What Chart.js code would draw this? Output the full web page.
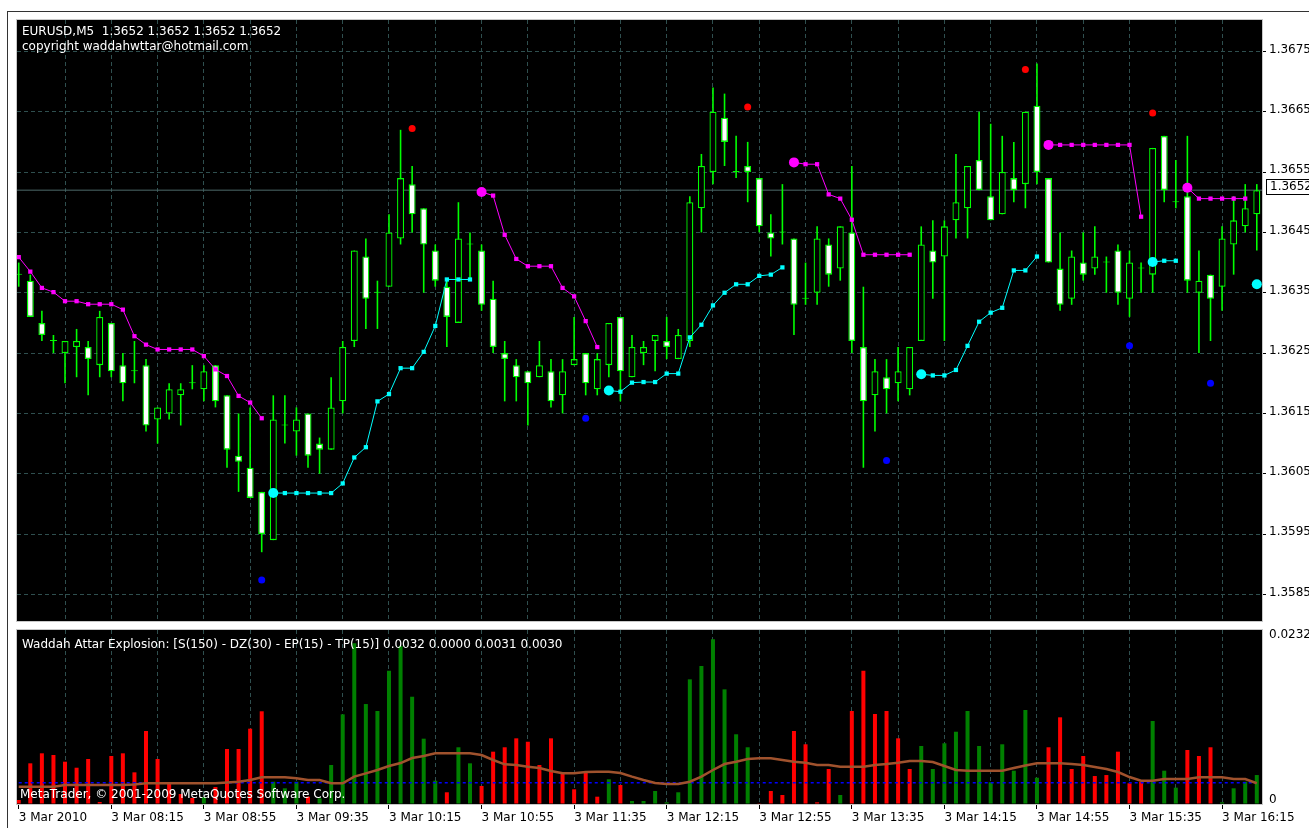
<!DOCTYPE html>
<html><head><meta charset="utf-8">
<script src="https://cdn.jsdelivr.net/npm/chart.js@4.4.1/dist/chart.umd.min.js"></script>
<style>
html,body{margin:0;padding:0;background:#fff;width:1309px;height:828px;overflow:hidden;}
#wrap{position:relative;width:1309px;height:828px;}
canvas{position:absolute;left:0;}
#c1{top:0;}
#c2{top:626px;}
.t{position:absolute;font-family:'DejaVu Sans';font-size:12px;color:#fff;white-space:pre;line-height:14px;}
#frame{position:absolute;left:7px;top:11px;width:1400px;height:900px;border-left:1px solid #333;border-top:1px solid #333;}
</style></head><body>
<div id="wrap">
<div id="frame"></div>
<canvas id="c1" width="1309" height="626"></canvas>
<canvas id="c2" width="1309" height="202"></canvas>
<div class="t" style="left:22px;top:24px">EURUSD,M5  1.3652 1.3652 1.3652 1.3652</div>
<div class="t" style="left:22px;top:39px">copyright waddahwttar@hotmail.com</div>
<div class="t" style="left:22px;top:637px">Waddah Attar Explosion: [S(150) - DZ(30) - EP(15) - TP(15)] 0.0032 0.0000 0.0031 0.0030</div>
<div class="t" style="left:20px;top:787px">MetaTrader, © 2001-2009 MetaQuotes Software Corp.</div>
</div>
<script>
// ---------- DATA ----------
const timeLabels = ['3 Mar 2010','3 Mar 08:15','3 Mar 08:55','3 Mar 09:35','3 Mar 10:15','3 Mar 10:55','3 Mar 11:35','3 Mar 12:15','3 Mar 12:55','3 Mar 13:35','3 Mar 14:15','3 Mar 14:55','3 Mar 15:35','3 Mar 16:15'];
const gridBars = [0,4,8,12,16,20,24,28,32,36,40,44,48,52,56,60,64,68,72,76,80,84,88,92,96,100,104];
const priceTickLabels = ['1.3585','1.3595','1.3605','1.3615','1.3625','1.3635','1.3645','1.3655','1.3665','1.3675'];
const currentPrice = 1.3652;
const currentPriceLabel = '1.3652';

const open = [
1.3638,1.3637,1.3630,1.3627,1.3625,1.3626,1.3626,1.3623,1.3630,1.3623,
1.3622,1.3623,1.3614,1.3615,1.3618,1.3620,1.3619,1.3623,1.3618,1.3608,
1.3606,1.3602,1.3594,1.3613,1.3612,1.3615,1.3610,1.3609,1.3617,1.3627,
1.3641,1.3635,1.3636,1.3644,1.3653,1.3649,1.3642,1.3636,1.3630,1.3643,
1.3642,1.3634,1.3625,1.3623,1.3622,1.3621,1.3622,1.3618,1.3623,1.3625,
1.3619,1.3623,1.3631,1.3621,1.3625,1.3627,1.3627,1.3624,1.3627,1.3649,
1.3655,1.3664,1.3655,1.3656,1.3654,1.3645,1.3645,1.3644,1.3634,1.3635,
1.3643,1.3639,1.3645,1.3626,1.3618,1.3621,1.3620,1.3619,1.3627,1.3642,
1.3641,1.3647,1.3649,1.3657,1.3651,1.3648,1.3654,1.3653,1.3666,1.3654,
1.3639,1.3634,1.3640,1.3639,1.3640,1.3642,1.3634,1.3639,1.3638,1.3661,
1.3650,1.3651,1.3635,1.3638,1.3636,1.3643,1.3646,1.3648];
const high = [
1.3640,1.3638,1.3632,1.3628,1.3627,1.3629,1.3627,1.3632,1.3630,1.3625,
1.3627,1.3624,1.3616,1.3620,1.3620,1.3623,1.3623,1.3623,1.3618,1.3615,
1.3616,1.3602,1.3618,1.3618,1.3616,1.3615,1.3611,1.3621,1.3627,1.3642,
1.3644,1.3637,1.3648,1.3662,1.3656,1.3649,1.3643,1.3637,1.3650,1.3645,
1.3643,1.3637,1.3627,1.3624,1.3622,1.3627,1.3624,1.3624,1.3631,1.3625,
1.3625,1.3630,1.3631,1.3628,1.3627,1.3628,1.3631,1.3629,1.3651,1.3658,
1.3669,1.3668,1.3661,1.3660,1.3654,1.3648,1.3653,1.3644,1.3640,1.3646,
1.3644,1.3646,1.3656,1.3636,1.3624,1.3624,1.3626,1.3626,1.3646,1.3647,
1.3647,1.3658,1.3656,1.3665,1.3663,1.3661,1.3660,1.3665,1.3673,1.3654,
1.3645,1.3642,1.3645,1.3646,1.3641,1.3643,1.3642,1.3640,1.3659,1.3661,
1.3657,1.3661,1.3642,1.3638,1.3646,1.3651,1.3653,1.3653];
const low = [
1.3636,1.3631,1.3627,1.3625,1.3620,1.3621,1.3618,1.3621,1.3621,1.3617,
1.3620,1.3612,1.3610,1.3614,1.3613,1.3619,1.3617,1.3616,1.3606,1.3602,
1.3601,1.3592,1.3594,1.3610,1.3608,1.3606,1.3605,1.3609,1.3615,1.3626,
1.3629,1.3629,1.3636,1.3643,1.3645,1.3635,1.3636,1.3626,1.3630,1.3637,
1.3632,1.3625,1.3617,1.3617,1.3613,1.3621,1.3616,1.3615,1.3623,1.3618,
1.3618,1.3621,1.3617,1.3621,1.3623,1.3622,1.3624,1.3624,1.3626,1.3645,
1.3653,1.3656,1.3654,1.3650,1.3645,1.3641,1.3643,1.3628,1.3633,1.3633,
1.3636,1.3637,1.3625,1.3606,1.3612,1.3615,1.3617,1.3618,1.3627,1.3634,
1.3627,1.3644,1.3644,1.3652,1.3647,1.3648,1.3650,1.3649,1.3653,1.3640,
1.3632,1.3633,1.3637,1.3638,1.3635,1.3633,1.3631,1.3635,1.3635,1.3650,
1.3649,1.3635,1.3625,1.3627,1.3632,1.3638,1.3645,1.3642];
const close = [
1.3638,1.3631,1.3628,1.3627,1.3627,1.3627,1.3624,1.3631,1.3622,1.3620,
1.3622,1.3613,1.3616,1.3619,1.3619,1.3620,1.3622,1.3617,1.3609,1.3607,
1.3601,1.3595,1.3614,1.3613,1.3614,1.3608,1.3609,1.3616,1.3626,1.3642,
1.3634,1.3635,1.3645,1.3654,1.3648,1.3643,1.3637,1.3631,1.3644,1.3643,
1.3633,1.3626,1.3624,1.3621,1.3620,1.3623,1.3617,1.3622,1.3624,1.3620,
1.3624,1.3630,1.3622,1.3626,1.3626,1.3628,1.3626,1.3628,1.3650,1.3656,
1.3665,1.3660,1.3655,1.3655,1.3646,1.3644,1.3645,1.3633,1.3634,1.3644,
1.3638,1.3646,1.3627,1.3617,1.3622,1.3619,1.3622,1.3626,1.3643,1.3640,
1.3646,1.3650,1.3656,1.3652,1.3647,1.3655,1.3652,1.3665,1.3655,1.3640,
1.3633,1.3641,1.3638,1.3641,1.3640,1.3635,1.3640,1.3639,1.3659,1.3652,
1.3650,1.3637,1.3637,1.3634,1.3644,1.3647,1.3649,1.3652];

// trailing stop (down trend, magenta) and (up trend, aqua)
const magentaStop = [
1.36409,1.36385,1.36358,1.36351,1.36336,1.36336,1.36331,1.36331,1.36331,1.36322,
1.36278,1.36264,1.36256,1.36256,1.36256,1.36256,1.36245,1.36223,1.36212,1.36179,
1.36168,1.36142,null,null,null,null,null,null,null,null,
null,null,null,null,null,null,null,null,null,null,
1.36517,1.36511,1.36446,1.36406,1.36394,1.36394,1.36394,1.36358,1.36344,1.36303,
1.36260,null,null,null,null,null,null,null,null,null,
null,null,null,null,null,null,null,1.36566,1.36563,1.36563,
1.36513,1.36506,1.36471,1.36413,1.36413,1.36413,1.36413,1.36413,null,null,
null,null,null,null,null,null,null,null,null,1.36595,
1.36595,1.36595,1.36595,1.36595,1.36595,1.36595,1.36595,1.36476,null,null,
null,1.36524,1.36506,1.36506,1.36506,1.36506,1.36506,null];
const cyanStop = [
null,null,null,null,null,null,null,null,null,null,
null,null,null,null,null,null,null,null,null,null,
null,null,1.36018,1.36018,1.36018,1.36018,1.36018,1.36018,1.36034,1.36077,
1.36094,1.36170,1.36182,1.36225,1.36225,1.36252,1.36295,1.36372,1.36372,1.36372,
null,null,null,null,null,null,null,null,null,null,
null,1.36188,1.36186,1.36201,1.36202,1.36202,1.36216,1.36216,1.36276,1.36297,
1.36329,1.36350,1.36364,1.36364,1.36378,1.36380,1.36392,null,null,null,
null,null,null,null,null,null,null,null,1.36215,1.36213,
1.36213,1.36222,1.36262,1.36302,1.36317,1.36325,1.36387,1.36387,1.36410,null,
null,null,null,null,null,null,null,null,1.36401,1.36403,
1.36403,null,null,null,null,null,null,1.36364];
const magentaStarts = [40,67,89,101];
const cyanStarts = [22,51,78,98,107];

const redDotBars = [34,63,87,98];
const redDotPrices = [1.36622,1.36658,1.36720,1.36648];
const blueDotBars = [21,49,75,96,103];
const blueDotPrices = [1.35874,1.36142,1.36072,1.36262,1.36200];

// Waddah Attar Explosion sub-window
const trendUp = [
0,0,0,0,0,0,0,0,0,0,
0,0,0,0,0,0,0.00099,0,0,0,
0,0,0.00314,0.00221,0.00314,0,0.00080,0.00549,0.01263,0.02263,
0.01408,0.01310,0.01877,0.02225,0.01511,0.00920,0.00328,0,0.00799,0.00573,
0,0,0,0,0,0,0,0,0,0,
0,0.00348,0,0.00042,0.00042,0.00183,0.00024,0.00165,0.01756,0.01944,
0.02320,0.01615,0.00982,0.00799,0,0,0,0,0,0,
0,0.00127,0,0,0,0,0,0,0.00817,0.00493,
0.00855,0.01018,0.01310,0.00817,0.00306,0.00841,0.00469,0.01324,0.00370,0,
0,0,0,0,0,0,0,0,0.01169,0.00469,
0.00230,0,0,0,0.00024,0.00221,0.00314,0.00408];
const trendDown = [
0.00056,0.00573,0.00714,0.00690,0.00596,0.00511,0.00634,0.00028,0.00676,0.00714,
0.00446,0.01028,0.00634,0.00292,0.00141,0.00085,0,0.00239,0.00775,0.00775,
0.01061,0.01306,0,0,0,0.00103,0,0,0,0,
0,0,0,0,0,0,0,0.00165,0,0,
0.00254,0.00737,0.00799,0.00925,0.00877,0.00549,0.00925,0.00432,0.00207,0.00455,
0.00103,0,0.00268,0,0,0,0,0,0,0,
0,0,0,0,0.00010,0.00183,0.00127,0.01028,0.00841,0.00024,
0.00493,0,0.01310,0.01877,0.01268,0.01310,0.00925,0.00493,0,0,
0,0,0,0,0,0,0,0,0,0.00799,
0.01221,0.00493,0.00676,0.00394,0.00408,0.00737,0.00292,0.00314,0,0,
0,0.00761,0.00676,0.00799,0,0,0,0];
const explosion = [
0.00244,0.00244,0.00244,0.00244,0.00268,0.00268,0.00268,0.00268,0.00268,0.00268,
0.00275,0.00292,0.00292,0.00292,0.00292,0.00292,0.00292,0.00292,0.00303,0.00314,
0.00338,0.00376,0.00376,0.00376,0.00362,0.00338,0.00338,0.00292,0.00292,0.00385,
0.00432,0.00479,0.00535,0.00577,0.00648,0.00676,0.00714,0.00714,0.00714,0.00714,
0.00690,0.00620,0.00559,0.00549,0.00525,0.00507,0.00465,0.00432,0.00432,0.00451,
0.00455,0.00455,0.00437,0.00385,0.00338,0.00296,0.00282,0.00282,0.00314,0.00385,
0.00479,0.00563,0.00596,0.00634,0.00644,0.00644,0.00620,0.00596,0.00582,0.00549,
0.00549,0.00525,0.00525,0.00525,0.00549,0.00563,0.00582,0.00606,0.00606,0.00592,
0.00535,0.00479,0.00469,0.00469,0.00469,0.00469,0.00507,0.00542,0.00573,0.00573,
0.00573,0.00563,0.00549,0.00521,0.00493,0.00451,0.00380,0.00328,0.00328,0.00352,
0.00352,0.00352,0.00376,0.00376,0.00376,0.00352,0.00352,0.00292];
const deadZone = 0.0030;
const histTickValues = [0, 0.0232];
const histTickLabels = ['0', '0.0232'];

// ---------- RENDER ----------
Chart.defaults.font.family = "'DejaVu Sans'";
Chart.defaults.font.size = 12;
const X_MIN = -0.15, X_MAX = 107.45;
const GRID = '#2F4F4F';
const LIME = '#00FF00';
const pts = arr => arr.map((v, i) => ({x: i, y: v}));
const noPad = s => { s.paddingTop = 0; s.paddingBottom = 0; s.paddingLeft = 0; s.paddingRight = 0; };

const panelPlugin = {
  id: 'panel',
  beforeDraw(chart) {
    const {ctx, chartArea: a} = chart;
    ctx.save(); ctx.fillStyle = '#000';
    ctx.fillRect(a.left, a.top, a.right - a.left, a.bottom - a.top);
    ctx.restore();
  },
  afterDraw(chart) {
    const {ctx, chartArea: a} = chart;
    ctx.save(); ctx.strokeStyle = '#C8C8C8'; ctx.lineWidth = 1;
    ctx.strokeRect(Math.round(a.left) - 0.5, Math.round(a.top) - 0.5, Math.round(a.right - a.left) + 1, Math.round(a.bottom - a.top) + 1);
    ctx.restore();
  }
};
const priceBoxPlugin = {
  id: 'pbox',
  afterDraw(chart) {
    const {ctx, chartArea: a} = chart;
    const y = Math.round(chart.scales.y.getPixelForValue(currentPrice));
    ctx.save();
    ctx.fillStyle = '#fff'; ctx.strokeStyle = '#000'; ctx.lineWidth = 1;
    ctx.fillRect(a.right + 4, y - 11, 60, 16);
    ctx.strokeRect(a.right + 4.5, y - 10.5, 60, 15);
    ctx.fillStyle = '#000'; ctx.font = "12px 'DejaVu Sans'"; ctx.textBaseline = 'middle';
    ctx.fillText(currentPriceLabel, a.right + 8, y - 3);
    ctx.restore();
  }
};

const stopPointStyle = starts => ctx => starts.includes(ctx.dataIndex) ? 'circle' : 'rect';
const stopPointRadius = starts => ctx => starts.includes(ctx.dataIndex) ? 5 : 3;

new Chart(document.getElementById('c1'), {
  type: 'bar',
  data: { datasets: [
    { type: 'line', data: [{x: X_MIN, y: currentPrice}, {x: X_MAX, y: currentPrice}], borderColor: '#4E6B6B', borderWidth: 1, pointRadius: 0, order: 20, clip: 0 },
    { data: low.map((l, i) => ({x: i, y: [l, high[i]]})), backgroundColor: LIME, barThickness: 1.6, grouped: false, inflateAmount: 0, order: 15, clip: 0 },
    { data: open.map((o, i) => ({x: i, y: [o, close[i]]})),
      backgroundColor: ctx => close[ctx.dataIndex] >= open[ctx.dataIndex] ? '#000' : '#FFF',
      borderColor: LIME, borderWidth: 1.3, borderSkipped: false, barThickness: 7, minBarLength: 1,
      grouped: false, inflateAmount: 0, order: 14, clip: 0 },
    { type: 'line', data: pts(magentaStop), borderColor: '#FF00FF', backgroundColor: '#FF00FF', borderWidth: 1,
      pointStyle: stopPointStyle(magentaStarts), pointRadius: stopPointRadius(magentaStarts), pointBorderWidth: 0,
      spanGaps: false, tension: 0, order: 5, clip: 0 },
    { type: 'line', data: pts(cyanStop), borderColor: '#00FFFF', backgroundColor: '#00FFFF', borderWidth: 1,
      pointStyle: stopPointStyle(cyanStarts), pointRadius: stopPointRadius(cyanStarts), pointBorderWidth: 0,
      spanGaps: false, tension: 0, order: 5, clip: 0 },
    { type: 'line', showLine: false, data: redDotBars.map((b, i) => ({x: b, y: redDotPrices[i]})), backgroundColor: '#FF0000', borderWidth: 0, pointRadius: 3.5, order: 3, clip: 0 },
    { type: 'line', showLine: false, data: blueDotBars.map((b, i) => ({x: b, y: blueDotPrices[i]})), backgroundColor: '#0000FF', borderWidth: 0, pointRadius: 3.5, order: 3, clip: 0 }
  ]},
  options: {
    responsive: false, animation: false, events: [],
    layout: { padding: { left: 17, top: 20, right: 0, bottom: 3 } },
    plugins: { legend: { display: false }, tooltip: { enabled: false } },
    scales: {
      x: { type: 'linear', min: X_MIN, max: X_MAX, offset: false,
        afterBuildTicks: s => { s.ticks = gridBars.filter(v => v > 0).map(v => ({value: v})); },
        ticks: { display: false },
        grid: { color: GRID, drawTicks: false, offset: false },
        border: { display: false, dash: [4, 3] },
        afterFit: s => { s.height = 0; noPad(s); } },
      y: { type: 'linear', position: 'right', min: 1.35806, max: 1.36802,
        afterBuildTicks: s => { s.ticks = priceTickLabels.map(t => ({value: parseFloat(t)})); },
        ticks: { color: '#000', padding: 3, labelOffset: -2, autoSkip: false, callback: (v, i) => priceTickLabels[i] },
        grid: { color: GRID, tickColor: '#000', tickLength: 4 },
        border: { display: false, dash: [4, 3] },
        afterFit: s => { s.width = 47; noPad(s); } }
    }
  },
  plugins: [panelPlugin, priceBoxPlugin]
});

new Chart(document.getElementById('c2'), {
  type: 'bar',
  data: { datasets: [
    { type: 'line', data: [{x: 0, y: deadZone}, {x: 107, y: deadZone}], borderColor: '#0000FF', borderWidth: 1.6, borderDash: [3, 3], pointRadius: 0, order: 2, clip: 0 },
    { type: 'line', data: pts(explosion), borderColor: '#A0522D', borderWidth: 2.5, pointRadius: 0, tension: 0, order: 1, clip: 0 },
    { data: pts(trendUp), backgroundColor: '#008000', barThickness: 4, grouped: false, inflateAmount: 0, order: 5, clip: 0 },
    { data: pts(trendDown), backgroundColor: '#FF0000', barThickness: 4, grouped: false, inflateAmount: 0, order: 5, clip: 0 }
  ]},
  options: {
    responsive: false, animation: false, events: [],
    layout: { padding: { left: 17, top: 4, right: 0, bottom: 0 } },
    plugins: { legend: { display: false }, tooltip: { enabled: false } },
    scales: {
      x: { type: 'linear', min: X_MIN, max: X_MAX, offset: false,
        afterBuildTicks: s => { s.ticks = gridBars.map(v => ({value: v})); },
        ticks: { color: '#000', align: 'start', autoSkip: false, maxRotation: 0, minRotation: 0, padding: 2,
          callback: v => (v % 8 === 0 ? timeLabels[v / 8] : '') },
        grid: { offset: false, tickLength: 5,
          color: ctx => (ctx.tick && ctx.tick.value === 0 ? 'rgba(0,0,0,0)' : GRID),
          tickColor: ctx => (ctx.tick && ctx.tick.value % 8 === 0 ? '#000' : 'rgba(0,0,0,0)') },
        border: { display: false, dash: [4, 3] },
        afterFit: s => { s.height = 24; noPad(s); } },
      y: { type: 'linear', position: 'right', min: 0, max: 0.02451,
        afterBuildTicks: s => { s.ticks = histTickValues.map(v => ({value: v})); },
        ticks: { color: '#000', padding: 3, labelOffset: -4, autoSkip: false, callback: (v, i) => histTickLabels[i] },
        grid: { color: ctx => (ctx.tick && ctx.tick.value === 0 ? '#556666' : 'rgba(0,0,0,0)'), tickColor: 'rgba(0,0,0,0)', tickLength: 4 },
        border: { display: false, dash: [2, 2] },
        afterFit: s => { s.width = 47; noPad(s); } }
    }
  },
  plugins: [panelPlugin]
});
</script>
</body></html>
